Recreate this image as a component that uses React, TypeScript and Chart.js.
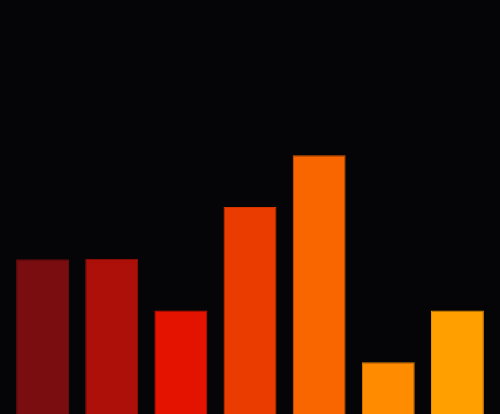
import * as React from 'react';
import { useEffect, useRef } from 'react';
import { Chart, registerables } from 'chart.js';

Chart.register(...registerables);

const labels = ['A', 'B', 'C', 'D', 'E', 'F', 'G'];
const values = [2.99, 3.0, 2.0, 4.0, 5.0, 1.0, 2.0];
const fills = ['#7a0d10', '#ad1008', '#e31300', '#ea3c00', '#f96600', '#ff8c00', '#ffa000'];
const edges = ['#6a0b0e', '#9c0e07', '#cc1100', '#d43600', '#e05c00', '#e67e00', '#e69000'];

const App = () => {
  const canvasRef = useRef<HTMLCanvasElement>(null);

  useEffect(() => {
    document.body.style.margin = '0';
    const ctx = canvasRef.current!.getContext('2d')!;
    const chart = new Chart(ctx, {
      type: 'bar',
      data: {
        labels,
        datasets: [{
          data: values,
          backgroundColor: fills,
          borderColor: edges,
          borderWidth: 1,
          barPercentage: 0.765,
          categoryPercentage: 1
        }]
      },
      options: {
        animation: false,
        responsive: false,
        layout: { padding: { left: 8, right: 8, top: 0, bottom: 0 } },
        plugins: { legend: { display: false }, tooltip: { enabled: false } },
        scales: {
          x: { display: false },
          y: { display: false, min: 0, max: 8 }
        }
      }
    });
    return () => chart.destroy();
  }, []);

  return <div style={{ position: 'fixed', left: 0, top: 0, width: 500, height: 414, background: '#050507' }}>
    <canvas ref={canvasRef} width={500} height={414} style={{ display: 'block', width: 500, height: 414 }} />
  </div>;
};

export default App;
